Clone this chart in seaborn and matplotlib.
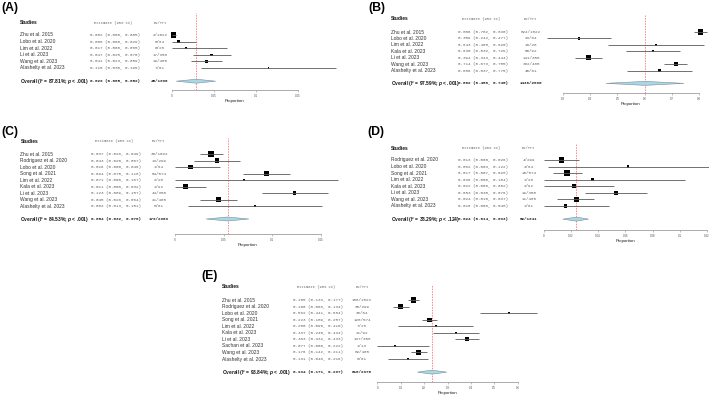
import numpy as np
import pandas as pd
import matplotlib
matplotlib.use("Agg")
import matplotlib.pyplot as plt
import seaborn as sns
from matplotlib import transforms

# ---------------- data ----------------
studies_A = ["Zhu et al. 2015", "Lobo et al. 2020", "Lim et al. 2022", "Li et al. 2023",
             "Wang et al. 2023", "Alashelty et al. 2023"]
est_A = [0.002, 0.008, 0.017, 0.047, 0.041, 0.115]
lo_A = [0.000, 0.000, 0.000, 0.025, 0.023, 0.035]
hi_A = [0.005, 0.029, 0.065, 0.070, 0.059, 0.195]
evtrt_A = ["2/1022", "0/64", "0/28", "17/358", "19/465", "7/61"]
w_A = [55, 13, 7, 10, 13, 2]
overall_A = [0.029, 0.005, 0.052]
overall_lab_A = ["87.81%", "< .001", "45/1998"]
ticks_A = [0, 0.05, 0.1, 0.15]
ticklabels_A = ["0", "0.05", "0.1", "0.15"]

studies_B = ["Zhu et al. 2015", "Lobo et al. 2020", "Lim et al. 2022", "Kala et al. 2023",
             "Li et al. 2023", "Wang et al. 2023", "Alashelty et al. 2023"]
est_B = [0.806, 0.359, 0.643, 0.630, 0.394, 0.714, 0.656]
lo_B = [0.782, 0.242, 0.465, 0.532, 0.343, 0.673, 0.537]
hi_B = [0.830, 0.477, 0.820, 0.729, 0.444, 0.755, 0.775]
evtrt_B = ["824/1022", "23/64", "18/28", "58/92", "141/358", "332/465", "40/61"]
w_B = [33, 6, 5, 6, 22, 19, 9]
overall_B = [0.602, 0.458, 0.745]
overall_lab_B = ["97.59%", "< .001", "1436/2090"]
ticks_B = [0.3, 0.4, 0.5, 0.6, 0.7, 0.8]
ticklabels_B = ["0.3", "0.4", "0.5", "0.6", "0.7", "0.8"]

studies_C = ["Zhu et al. 2015", "Rodriguez et al. 2020", "Lobo et al. 2020", "Song et al. 2021",
             "Lim et al. 2022", "Kala et al. 2023", "Li et al. 2023", "Wang et al. 2023",
             "Alashelty et al. 2023"]
est_C = [0.037, 0.043, 0.016, 0.094, 0.071, 0.011, 0.123, 0.045, 0.082]
lo_C = [0.026, 0.020, 0.000, 0.070, 0.000, 0.000, 0.089, 0.026, 0.013]
hi_C = [0.049, 0.067, 0.046, 0.118, 0.167, 0.032, 0.157, 0.064, 0.151]
evtrt_C = ["38/1022", "13/299", "1/64", "54/574", "2/28", "1/92", "44/358", "21/465", "5/61"]
w_C = [19, 12, 12, 12, 3, 16, 8, 14, 4]
overall_C = [0.054, 0.032, 0.076]
overall_lab_C = ["84.53%", "< .001", "179/2963"]
ticks_C = [0, 0.05, 0.1, 0.15]
ticklabels_C = ["0", "0.05", "0.1", "0.15"]

studies_D = ["Rodriguez et al. 2020", "Lobo et al. 2020", "Song et al. 2021", "Lim et al. 2022",
             "Kala et al. 2023", "Li et al. 2023", "Wang et al. 2023", "Alashelty et al. 2023"]
est_D = [0.013, 0.062, 0.017, 0.036, 0.022, 0.053, 0.024, 0.016]
lo_D = [0.000, 0.003, 0.007, 0.000, 0.000, 0.030, 0.010, 0.000]
hi_D = [0.026, 0.122, 0.028, 0.104, 0.052, 0.076, 0.037, 0.048]
evtrt_D = ["4/299", "4/64", "10/574", "1/28", "2/92", "19/358", "11/465", "1/61"]
w_D = [20, 5, 20, 5, 10, 10, 20, 10]
overall_D = [0.024, 0.014, 0.033]
overall_lab_D = ["38.29%", "< .124", "52/1941"]
ticks_D = [0, 0.02, 0.04, 0.06, 0.08, 0.1, 0.12]
ticklabels_D = ["0", "0.02", "0.04", "0.06", "0.08", "0.1", "0.12"]

studies_E = ["Zhu et al. 2015", "Rodriguez et al. 2020", "Lobo et al. 2020", "Song et al. 2021",
             "Lim et al. 2022", "Kala et al. 2023", "Li et al. 2023", "Sachan et al. 2023",
             "Wang et al. 2023", "Alashelty et al. 2023"]
est_E = [0.155, 0.100, 0.562, 0.223, 0.250, 0.337, 0.383, 0.077, 0.176, 0.131]
lo_E = [0.133, 0.066, 0.441, 0.189, 0.090, 0.240, 0.332, 0.000, 0.142, 0.046]
hi_E = [0.177, 0.134, 0.684, 0.257, 0.410, 0.434, 0.433, 0.222, 0.211, 0.216]
evtrt_E = ["158/1022", "30/299", "36/64", "128/574", "7/28", "31/92", "137/358", "1/13",
           "82/465", "8/61"]
w_E = [23, 18, 4, 13, 3, 4, 11, 4, 13, 6]
overall_E = [0.234, 0.171, 0.297]
overall_lab_E = ["93.84%", "< .001", "618/2976"]
ticks_E = [0, 0.1, 0.2, 0.3, 0.4, 0.5, 0.6]
ticklabels_E = ["0", "0.1", "0.2", "0.3", "0.4", "0.5", "0.6"]

# ---------------- style ----------------
sns.set_theme(style="white")
plt.rcParams["font.family"] = ["Liberation Sans", "DejaVu Sans"]
plt.rcParams["mathtext.fontset"] = "custom"
plt.rcParams["mathtext.it"] = "Liberation Sans:bold:italic"
plt.rcParams["mathtext.rm"] = "Liberation Sans:bold"
plt.rcParams["mathtext.bf"] = "Liberation Sans:bold"

W, H = 709, 395
fig = plt.figure(figsize=(W / 100, H / 100), dpi=100)
fig.patch.set_facecolor("white")

MONO = "Liberation Mono"
F_NAME = 3.5
F_MONO = 3.1
F_HEAD_MONO = 2.7
F_TICK = 2.0
F_XLAB = 3.2
F_PANEL = 8.8
TXT_NAME = "#333333"
TXT_MONO = "#666666"


def fmt(x):
    return f"{x:.3f}"


def panel(letter, studies, est, lo, hi, evtrt, w, overall, overall_lab, ticks, ticklabels, L):
    n = len(studies)
    row0, dy = L["row0"], L["dy"]
    top_idx = (L["ref_top"] - row0) / dy
    bot_idx = (L["axis_y"] - row0) / dy
    x0, x1 = L["x0"], L["x1"]
    ax = fig.add_axes([x0 / W, 1 - L["axis_y"] / H, (x1 - x0) / W,
                       (L["axis_y"] - L["ref_top"]) / H])
    ax.set_facecolor("none")
    ax.set_xlim(ticks[0], ticks[-1])
    ax.set_ylim(bot_idx, top_idx)

    rows = np.arange(n)
    df = pd.DataFrame({"est": est, "row": rows, "w": w})
    smax = (5.4 * 0.72) ** 2
    sns.scatterplot(data=df, x="est", y="row", size="w", sizes=(0, smax),
                    size_norm=(0, max(w)), marker="s", color="black", linewidth=0,
                    legend=False, ax=ax, clip_on=False, zorder=3)
    ax.hlines(rows, lo, hi, color="#5a5a5a", lw=0.6, zorder=4, clip_on=False)

    # overall diamond
    oy = n + 1
    h = 2.0 / dy
    est_o, lo_o, hi_o = overall
    ax.fill([lo_o, est_o, hi_o, est_o], [oy, oy - h, oy, oy + h],
            facecolor="#a9d7e6", edgecolor="#7a8f99", lw=0.4, zorder=3, clip_on=False)
    # reference line
    ax.axvline(est_o, ymin=0, ymax=1, color="#ff5a5a", lw=0.5, ls=(0, (2.2, 1.6)), zorder=2)

    # axis styling
    for s in ["left", "top", "right"]:
        ax.spines[s].set_visible(False)
    ax.spines["bottom"].set_color("#8c8c8c")
    ax.spines["bottom"].set_linewidth(0.5)
    ax.set_xticks(ticks)
    ax.set_xticklabels(ticklabels)
    ax.set_yticks([])
    ax.tick_params(axis="x", bottom=True, length=1.5, width=0.4, color="#8c8c8c",
                   labelsize=F_TICK, labelcolor="#444444", pad=1.2)
    ax.set_xlabel("Proportion", fontsize=F_XLAB, labelpad=1.0, color="#222222")
    ax.set_ylabel("")
    ax.grid(False)

    tr = transforms.blended_transform_factory(fig.transFigure, ax.transData)
    hy = (L["header_y"] - row0) / dy
    ax.text(L["study_x"] / W, hy, "Studies", transform=tr, fontsize=F_NAME,
            fontweight="bold", va="center", ha="left", color="#111111", clip_on=False)
    ax.text((L["est_x"] + 4) / W, hy, "Estimate (95% CI)", transform=tr, family=MONO,
            fontsize=F_HEAD_MONO, va="center", ha="left", color=TXT_MONO)
    ax.text(L["ev_x"] / W, hy, "Ev/Trt", transform=tr, family=MONO,
            fontsize=F_HEAD_MONO, va="center", ha="center", color=TXT_MONO)
    for i in range(n):
        ax.text(L["study_x"] / W, i, studies[i], transform=tr, fontsize=F_NAME,
                va="center", ha="left", color=TXT_NAME)
        ax.text(L["est_x"] / W, i, f"{fmt(est[i])} ({fmt(lo[i])}, {fmt(hi[i])})",
                transform=tr, family=MONO, fontsize=F_MONO, va="center", ha="left",
                color=TXT_MONO)
        ax.text(L["ev_x"] / W, i, evtrt[i], transform=tr, family=MONO, fontsize=F_MONO,
                va="center", ha="center", color=TXT_MONO)
    i2, pv, evo = overall_lab
    ax.text(L["study_x"] / W, oy,
            f"Overall (I² = {i2}; $\\mathit{{p}}$ {pv})", transform=tr, fontsize=F_NAME,
            fontweight="bold", va="center", ha="left", color="#111111")
    ax.text(L["est_x"] / W, oy, f"{fmt(est_o)} ({fmt(lo_o)}, {fmt(hi_o)})", transform=tr,
            family=MONO, fontsize=F_MONO, fontweight="bold", va="center", ha="left",
            color="#222222")
    ax.text(L["ev_x"] / W, oy, evo, transform=tr, family=MONO, fontsize=F_MONO,
            fontweight="bold", va="center", ha="center", color="#222222")
    fig.text(L["lab_x"] / W, 1 - L["lab_y"] / H, f"({letter})", fontsize=F_PANEL,
             fontweight="bold", va="center", ha="left", color="black")


LA = dict(lab_x=1, lab_y=8, header_y=23, row0=35, dy=6.6, axis_y=90, ref_top=13,
          x0=172, x1=298, study_x=20, est_x=90.5, ev_x=160)
LB = dict(lab_x=368, lab_y=8, header_y=19, row0=32, dy=6.42, axis_y=93, ref_top=15,
          x0=563, x1=699, study_x=391, est_x=458.3, ev_x=531)
LC = dict(lab_x=1, lab_y=132, header_y=141, row0=154, dy=6.5, axis_y=234, ref_top=138,
          x0=175, x1=321, study_x=20.5, est_x=91, ev_x=159)
LD = dict(lab_x=367, lab_y=132, header_y=148, row0=160, dy=6.57, axis_y=230, ref_top=143,
          x0=543.7, x1=707, study_x=391, est_x=457.7, ev_x=529)
LE = dict(lab_x=201, lab_y=276, header_y=287, row0=300, dy=6.56, axis_y=382, ref_top=285,
          x0=377.3, x1=517.7, study_x=222, est_x=293.3, ev_x=362)

panel("A", studies_A, est_A, lo_A, hi_A, evtrt_A, w_A, overall_A, overall_lab_A,
      ticks_A, ticklabels_A, LA)
panel("B", studies_B, est_B, lo_B, hi_B, evtrt_B, w_B, overall_B, overall_lab_B,
      ticks_B, ticklabels_B, LB)
panel("C", studies_C, est_C, lo_C, hi_C, evtrt_C, w_C, overall_C, overall_lab_C,
      ticks_C, ticklabels_C, LC)
panel("D", studies_D, est_D, lo_D, hi_D, evtrt_D, w_D, overall_D, overall_lab_D,
      ticks_D, ticklabels_D, LD)
panel("E", studies_E, est_E, lo_E, hi_E, evtrt_E, w_E, overall_E, overall_lab_E,
      ticks_E, ticklabels_E, LE)

fig.savefig("out.png", dpi=100, facecolor="white")
